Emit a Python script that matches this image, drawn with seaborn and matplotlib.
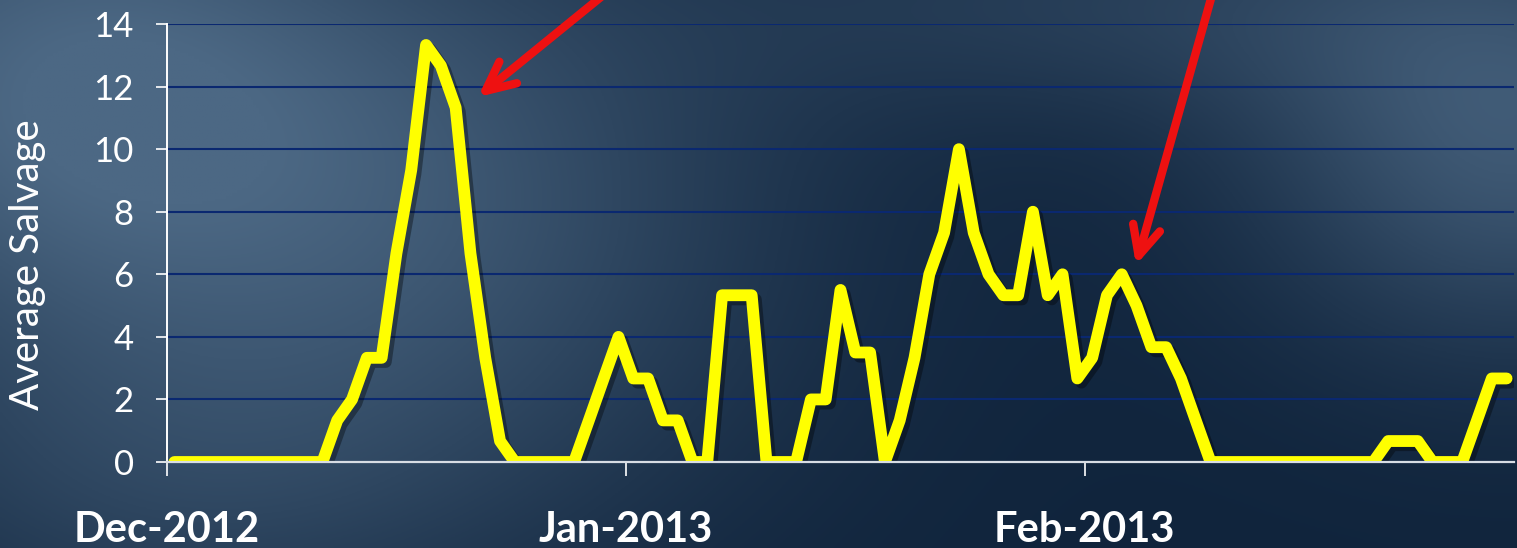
import numpy as np
import pandas as pd
import matplotlib
matplotlib.use("Agg")
import matplotlib.pyplot as plt
import matplotlib.patheffects as pe
import seaborn as sns

# daily values, Dec 1 2012 .. Mar 1 2013
salvage = [
    0, 0, 0, 0, 0, 0, 0, 0, 0, 0, 0, 1.33, 2, 3.33, 3.33, 6.67, 9.33, 13.33, 12.67, 11.33,
    6.67, 3.33, 0.67, 0, 0, 0, 0, 0, 1.33, 2.67, 4, 2.67, 2.67, 1.33, 1.33, 0, 0, 5.33, 5.33, 5.33,
    0, 0, 0, 2, 2, 5.5, 3.5, 3.5, 0, 1.33, 3.33, 6, 7.33, 10, 7.33, 6, 5.33, 5.33, 8, 5.33,
    6, 2.67, 3.33, 5.33, 6, 5, 3.67, 3.67, 2.67, 1.33, 0, 0, 0, 0, 0, 0, 0, 0, 0, 0,
    0, 0, 0.67, 0.67, 0.67, 0, 0, 0, 1.33, 2.67, 2.67,
]
dates = pd.date_range("2012-12-01", periods=len(salvage), freq="D") + pd.Timedelta(hours=12)
month_ticks = pd.to_datetime(["2012-12-01", "2013-01-01", "2013-02-01"])
month_labels = ["Dec-2012", "Jan-2013", "Feb-2013"]

df = pd.DataFrame({"date": dates, "salvage": salvage})

W, H = 1517, 548
fig = plt.figure(figsize=(W / 100, H / 100), dpi=100)

# background gradient
yy, xx = np.mgrid[0:1:200j, 0:1:560j]
base = np.array([16, 36, 60]) / 255
light = np.array([76, 104, 132]) / 255
w = (0.85 * np.exp(-((xx - 0.03) ** 2 / 0.05 + (yy - 0.15) ** 2 / 0.25))
     + 0.6 * np.exp(-((xx - 0.28) ** 2 / 0.06 + (yy - 0.4) ** 2 / 0.3))
     + 0.75 * np.exp(-((xx - 1.0) ** 2 / 0.03 + (yy - 0.25) ** 2 / 0.15))
     + 0.35 * np.exp(-((xx - 0.75) ** 2 / 0.08 + (yy - 0.0) ** 2 / 0.05))
     + 0.3 * np.exp(-((xx - 0.1) ** 2 / 0.05 + (yy - 0.9) ** 2 / 0.1)))
w = np.clip(w, 0, 1)[..., None]
bg = base + (light - base) * w
bax = fig.add_axes([0, 0, 1, 1])
bax.imshow(bg, aspect="auto", extent=[0, 1, 0, 1])
bax.axis("off")

ax = fig.add_axes([167 / W, 86 / H, 1347 / W, 438 / H])
ax.set_facecolor("none")

sns.lineplot(data=df, x="date", y="salvage", ax=ax, color="#ffff00", linewidth=8.5,
             solid_capstyle="round", solid_joinstyle="round",
             path_effects=[pe.SimpleLineShadow(offset=(3, -3), shadow_color="black", alpha=0.35),
                           pe.Normal()])

ax.set_xlim(pd.Timestamp("2012-12-01"), pd.Timestamp("2013-03-02"))
ax.set_ylim(0, 14)
ax.set_yticks(range(0, 15, 2))
ax.set_xticks(month_ticks)
ax.set_xticklabels(month_labels)

ax.grid(axis="y", color="#0a2870", linewidth=1.5)
ax.set_axisbelow(True)
for s in ["top", "right"]:
    ax.spines[s].set_visible(False)
ax.spines["left"].set_color("white")
ax.spines["left"].set_linewidth(1.4)
ax.spines["bottom"].set_color("#d8dde4")
ax.spines["bottom"].set_linewidth(1.6)

ax.tick_params(axis="y", colors="white", length=8, width=1.2, pad=16, labelsize=25)
ax.tick_params(axis="x", colors="white", length=10, width=1.2, pad=25, labelsize=30)
for t in ax.get_yticklabels():
    t.set_family("Lato")
for t in ax.get_xticklabels():
    t.set_family("Lato")
    t.set_fontweight("bold")

ax.set_xlabel("")
ax.set_ylabel("Average Salvage", color="white", fontsize=29, family="Lato")
ax.yaxis.set_label_coords(-0.09, 0.45)

# red arrows
for start, tip in [((612, 560), (478, 451)), ((1214, 560), (1136, 283))]:
    ax.annotate("", xy=tip, xytext=start, xycoords="figure pixels", textcoords="figure pixels",
                annotation_clip=False,
                arrowprops=dict(arrowstyle="->,head_length=2.1,head_width=1.0", color="#ee1111",
                                lw=6, capstyle="round", joinstyle="round", shrinkA=0, shrinkB=0))

fig.savefig("out.png", dpi=100)
